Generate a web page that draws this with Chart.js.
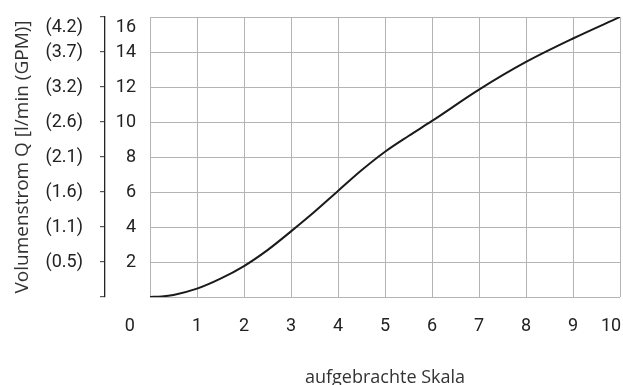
<!DOCTYPE html>
<html>
<head>
<meta charset="utf-8">
<script src="https://cdn.jsdelivr.net/npm/chart.js@4/dist/chart.umd.min.js"></script>
<style>
  html, body { margin: 0; padding: 0; background: #ffffff; }
  #wrap { width: 623px; height: 385px; position: relative; }
</style>
</head>
<body>
<div id="wrap"><canvas id="c" width="623" height="385"></canvas></div>
<script>
// ---- data ----
const scaleValues = [0, 0.25, 0.5, 1, 1.5, 2, 2.5, 3, 3.5, 4, 4.5, 5, 5.5, 6, 7, 8, 9, 10];
const flowValues  = [0, 0.03, 0.12, 0.48, 1.05, 1.77, 2.68, 3.75, 4.87, 6.06, 7.24, 8.3, 9.2, 10.06, 11.85, 13.43, 14.77, 16.0];
const xTickLabels = ['0', '1', '2', '3', '4', '5', '6', '7', '8', '9', '10'];
const yTickValues = [0, 2, 4, 6, 8, 10, 12, 14, 16];
const yTickLabels = ['', '2', '4', '6', '8', '10', '12', '14', '16'];
const gpmLabels   = ['', '(0.5)', '(1.1)', '(1.6)', '(2.1)', '(2.6)', '(3.2)', '(3.7)', '(4.2)'];
const xTitle = 'aufgebrachte Skala';
const yTitle = 'Volumenstrom Q [l/min (GPM)]';

const tickFont = { family: "Roboto, 'Liberation Sans', sans-serif", size: 18 };
const xTitleFont = { family: "'Open Sans', 'Noto Sans', sans-serif", size: 18, lineHeight: 1 };
const yTitleFont = { family: "'Open Sans', 'Noto Sans', sans-serif", size: 19, lineHeight: 1 };
const gridColor = '#b4b4b4';
const textColor = '#222222';

const points = scaleValues.map((x, i) => ({ x: x, y: flowValues[i] }));

function yLabel(list, value) {
  const i = yTickValues.indexOf(value);
  if (i < 0) return '';
  const s = list[i];
  // top label is set just below its tick, as in the reference
  return value === 16 ? ['', s] : s;
}

new Chart(document.getElementById('c'), {
  type: 'line',
  data: {
    datasets: [{
      data: points,
      borderColor: '#1a1a1a',
      borderWidth: 2,
      pointRadius: 0,
      fill: false,
      cubicInterpolationMode: 'monotone'
    }]
  },
  options: {
    responsive: false,
    animation: false,
    layout: { padding: { top: 17, right: 3, bottom: 0, left: 0 } },
    plugins: { legend: { display: false }, tooltip: { enabled: false } },
    scales: {
      x: {
        type: 'linear',
        min: 0, max: 10,
        afterBuildTicks: s => { s.ticks = xTickLabels.map((_, i) => ({ value: i })); },
        ticks: {
          autoSkip: false,
          maxRotation: 0,
          padding: 19,
          color: textColor,
          font: tickFont,
          callback: (v) => {
            const s = xTickLabels[v];
            if (v === 0) return s + '         ';
            if (v === 10) return s + '    ';
            return s;
          }
        },
        grid: { color: gridColor, lineWidth: 1, drawTicks: false },
        border: { display: false },
        title: { display: true, text: xTitle, color: '#333333', font: xTitleFont, padding: { top: 0, bottom: -2 } },
        afterFit: s => { s.height = 88; s.paddingLeft = 0; s.paddingRight = 0; }
      },
      y: {
        type: 'linear',
        position: 'left',
        weight: 0,
        min: 0, max: 16,
        afterBuildTicks: s => { s.ticks = yTickValues.map(v => ({ value: v })); },
        ticks: {
          autoSkip: false,
          padding: 14,
          color: textColor,
          font: tickFont,
          callback: v => yLabel(yTickLabels, v)
        },
        grid: { color: gridColor, lineWidth: 1, drawTicks: false },
        border: { display: false },
        afterFit: s => { s.width = 45; s.paddingTop = 0; s.paddingBottom = 0; }
      },
      y2: {
        type: 'linear',
        position: 'left',
        weight: 1,
        min: 0, max: 16,
        afterBuildTicks: s => { s.ticks = yTickValues.map(v => ({ value: v })); },
        ticks: {
          autoSkip: false,
          padding: 17,
          color: textColor,
          font: tickFont,
          callback: v => yLabel(gpmLabels, v)
        },
        grid: { drawOnChartArea: false, drawTicks: true, tickLength: 5, color: '#555555', lineWidth: 1.2 },
        border: { display: true, color: '#222222', width: 1.3 },
        title: { display: true, text: yTitle, color: '#333333', font: yTitleFont, padding: { top: 13, bottom: 0 } },
        afterFit: s => { s.width = 105; s.paddingTop = 0; s.paddingBottom = 0; }
      }
    }
  }
});
</script>
</body>
</html>
